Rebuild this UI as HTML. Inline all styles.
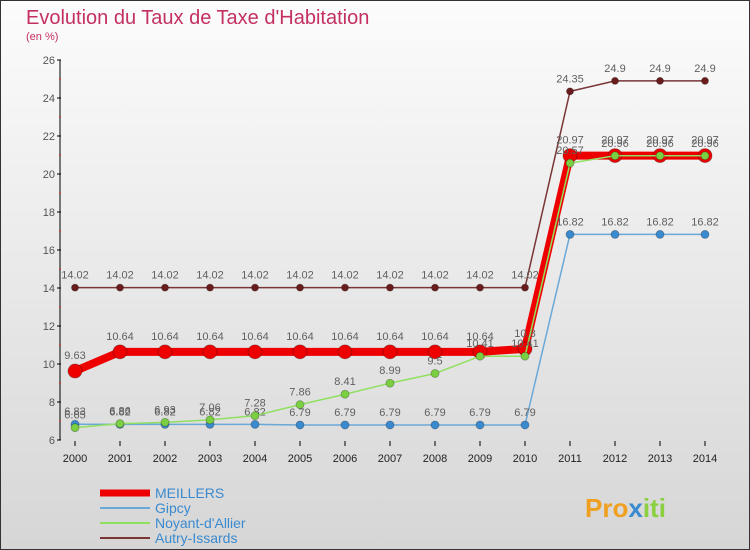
<!DOCTYPE html>
<html><head><meta charset="utf-8"><style>
body{margin:0;width:750px;height:550px;overflow:hidden;font-family:"Liberation Sans",sans-serif}
#c{position:absolute;left:0;top:0;width:748px;height:548px;border:1px solid #333;background:linear-gradient(#fcfcfc,#d6d6d6)}
</style></head><body>
<div id="c"></div>
<svg id="s" width="750" height="550" style="position:absolute;left:0;top:0" font-family="Liberation Sans, sans-serif">
<text x="26" y="24" font-size="20" fill="#c43060">Evolution du Taux de Taxe d'Habitation</text>
<text x="26" y="40" font-size="11" fill="#c43060">(en %)</text>
<g id="axes"></g><g id="series"></g><g id="legend"></g>
<text x="585" y="517" font-size="26" font-weight="bold" fill="#f0a020">Pro<tspan fill="#3a8ad0">x</tspan><tspan fill="#8bd040">iti</tspan></text>
</svg>
<script>
const years=[2000,2001,2002,2003,2004,2005,2006,2007,2008,2009,2010,2011,2012,2013,2014];
const meillers=[9.63,10.64,10.64,10.64,10.64,10.64,10.64,10.64,10.64,10.64,10.8,20.97,20.97,20.97,20.97];
const gipcy=[6.83,6.82,6.82,6.82,6.82,6.79,6.79,6.79,6.79,6.79,6.79,16.82,16.82,16.82,16.82];
const noyant=[6.65,6.86,6.93,7.06,7.28,7.86,8.41,8.99,9.5,10.41,10.41,20.57,20.96,20.96,20.96];
const autry=[14.02,14.02,14.02,14.02,14.02,14.02,14.02,14.02,14.02,14.02,14.02,24.35,24.9,24.9,24.9];
const yTicks=[6,8,10,12,14,16,18,20,22,24,26];
const NS="http://www.w3.org/2000/svg";
const X=i=>75+i*45, Y=v=>440-(v-6)*19;
function mk(t,a,p){const e=document.createElementNS(NS,t);for(const k in a)e.setAttribute(k,a[k]);p.appendChild(e);return e;}
const ax=document.getElementById('axes');
const yl=mk('line',{x1:60,y1:60,x2:60,y2:440,stroke:'#000'},ax);


yTicks.forEach(v=>{
 mk('line',{x1:57,y1:Y(v),x2:61,y2:Y(v),stroke:'#000'},ax);
 if(v<26) mk('line',{x1:59,y1:Y(v+1),x2:61,y2:Y(v+1),stroke:'#e03030'},ax);
 const t=mk('text',{x:55,y:Y(v)+4,'font-size':11,'text-anchor':'end',fill:'#555'},ax);t.textContent=v;
 
 
});
years.forEach((y,i)=>{
 mk('line',{x1:X(i),y1:441,x2:X(i),y2:446,stroke:'#000'},ax);
 const t=mk('text',{x:X(i),y:462,'font-size':11,'text-anchor':'middle',fill:'#222'},ax);t.textContent=y;
 
 
});
const sg=document.getElementById('series');
function draw(name,vals,col,w,r,fill,dy){
 const g=mk('g',{},sg);
 
 
 mk('polyline',{points:vals.map((v,i)=>X(i)+','+Y(v)).join(' '),fill:'none',stroke:col,'stroke-width':w},g);
 vals.forEach((v,i)=>{
  const c=mk('circle',{cx:X(i),cy:Y(v),r:r,fill:fill,stroke:'rgba(0,0,0,0.25)'},g);
  
  
  const t=mk('text',{x:X(i),y:Y(v)-dy,'font-size':11,'text-anchor':'middle',fill:'#606060'},g);t.textContent=v;
  
  
 });
}
draw('autry-issards',autry,'#7a3535',1.5,3.5,'#6a1c1c',9);
draw('meillers',meillers,'#ee0000',8,7,'#ee0000',12);
draw('gipcy',gipcy,'#6aa8d8',1.5,4,'#3a8ad0',9);
draw('noyant-d-allier',noyant,'#90e060',1.5,4,'#7ad040',9);
const lg=document.getElementById('legend');
[['MEILLERS','#ee0000',7],['Gipcy','#6aa8d8',2],["Noyant-d'Allier",'#90e060',2],['Autry-Issards','#7a3535',2]].forEach((d,i)=>{
 const y=493+i*15;
 const l=mk('line',{x1:100,y1:y,x2:150,y2:y,stroke:d[1],'stroke-width':d[2]},lg);
 
 
 const t=mk('text',{x:155,y:y+5,'font-size':14,fill:'#3a8ad0'},lg);t.textContent=d[0];
 
 
});
</script>
</body></html>
